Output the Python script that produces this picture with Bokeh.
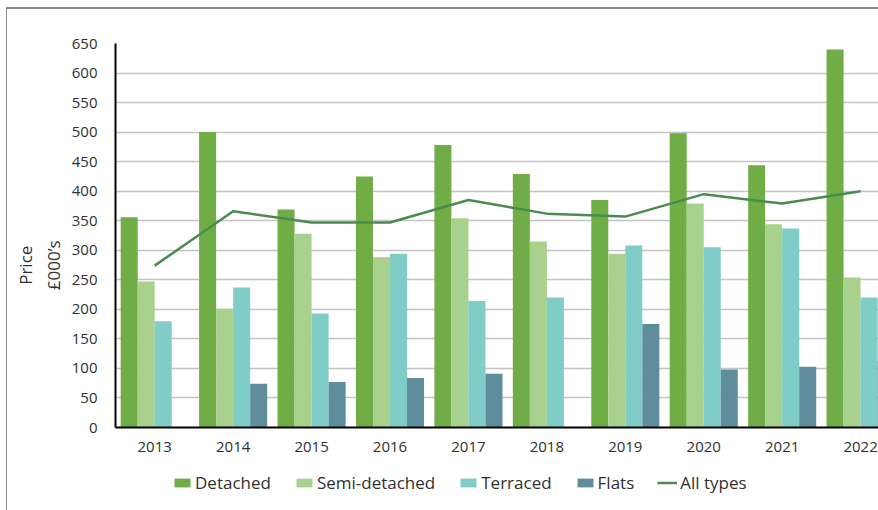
from bokeh.plotting import figure
from bokeh.layouts import column
from bokeh.models import (ColumnDataSource, FixedTicker, Legend, LegendItem,
                          Range1d)
from bokeh.transform import dodge
from bokeh.embed import file_html
from bokeh.resources import INLINE
import numpy as np

# ---- data ----
years = ["2013", "2014", "2015", "2016", "2017", "2018", "2019", "2020", "2021", "2022"]
detached = [356, 500, 369, 425, 478, 429, 385, 498, 444, 640]
semi_detached = [247, 201, 328, 288, 354, 315, 294, 379, 344, 254]
terraced = [180, 237, 193, 294, 214, 220, 308, 305, 337, 220]
flats = [np.nan, 74, 77, 84, 91, np.nan, 175, 98, 103, 112]
all_types = [274, 366, 347, 347, 385, 362, 357, 395, 379, 400]
y_ticks = [0, 50, 100, 150, 200, 250, 300, 350, 400, 450, 500, 550, 600, 650]
series_names = ["Detached", "Semi-detached", "Terraced", "Flats"]
line_name = "All types"
y_title = ["Price", "£000’s"]

COLORS = ["#70ad47", "#a9d18e", "#7fcdc6", "#5f8d9c"]
LINE_COLOR = "#4a8b50"
FONT = "Open Sans"
TXT = "#303030"
BORDER = "#8c8c8c"

idx = list(range(len(years)))
src = ColumnDataSource(dict(
    i=idx, center=[k + 0.5 for k in idx],
    detached=detached, semi=semi_detached, terraced=terraced,
    flats=flats, all_types=all_types,
))

p = figure(width=872, height=458, output_backend="svg", toolbar_location=None,
           x_range=Range1d(0, 9.741), y_range=Range1d(0, 650),
           min_border_left=108, min_border_right=0, min_border_top=34,
           min_border_bottom=40,
           styles={"border-left": f"1px solid {BORDER}",
                   "border-top": f"2px solid {BORDER}"})
p.outline_line_color = None
p.background_fill_color = "white"
p.border_fill_color = "white"

bw = 0.217
fields = ["detached", "semi", "terraced", "flats"]
for k, (field, color) in enumerate(zip(fields, COLORS)):
    off = 0.066 + bw / 2 + k * bw
    p.vbar(x=dodge("i", off), top=field, width=bw, source=src,
           fill_color=color, line_color=None)

p.line(x="center", y="all_types", source=src, line_color=LINE_COLOR,
       line_width=2.5)

# axes
p.yaxis.ticker = FixedTicker(ticks=y_ticks)
p.xaxis.ticker = FixedTicker(ticks=[k + 0.5 for k in idx])
p.xaxis.major_label_overrides = {k + 0.5: y for k, y in zip(idx, years)}
for ax in (p.xaxis, p.yaxis):
    ax.axis_line_color = "black"
    ax.axis_line_width = 2
    ax.major_tick_line_color = None
    ax.minor_tick_line_color = None
    ax.major_label_text_font = FONT
    ax.major_label_text_font_size = "15px"
    ax.major_label_text_color = TXT
p.yaxis.major_label_standoff = 12
p.xaxis.major_label_standoff = 8
# trailing em-spaces push the (rotated) title a little below the axis middle
pad = "\u2003\u2003\u2003\u2002"
p.yaxis.axis_label = "\n".join(t + pad for t in y_title)
p.yaxis.axis_label_text_font = FONT
p.yaxis.axis_label_text_font_size = "17px"
p.yaxis.axis_label_text_font_style = "normal"
p.yaxis.axis_label_text_color = TXT
p.yaxis.axis_label_standoff = 4

p.xgrid.grid_line_color = None
p.ygrid.ticker = FixedTicker(ticks=y_ticks)
p.ygrid.grid_line_color = "#c4c4c4"
p.ygrid.grid_line_width = 1.5

# ---- legend strip (separate figure below, same look) ----
lg = figure(width=872, height=45, output_backend="svg", toolbar_location=None,
            x_range=Range1d(0, 1), y_range=Range1d(0, 1),
            min_border=0, min_border_left=0, min_border_right=0,
            min_border_top=0, min_border_bottom=0,
            styles={"border-left": f"1px solid {BORDER}"})
lg.axis.visible = False
lg.grid.visible = False
lg.outline_line_color = None
items = []
for name, color in zip(series_names, COLORS):
    r = lg.vbar(x=[5], top=[1], width=0.1, fill_color=color, line_color=None)
    items.append(LegendItem(label=name, renderers=[r]))
lr = lg.line(x=[5, 6], y=[5, 6], line_color=LINE_COLOR, line_width=2.5)
items.append(LegendItem(label=line_name, renderers=[lr]))
legend = Legend(items=items, orientation="horizontal", location=(57, 16),
                label_text_font=FONT, label_text_font_size="17px",
                label_text_color=TXT, glyph_width=20, glyph_height=11,
                label_standoff=3, spacing=23, padding=0, margin=0,
                border_line_color=None, background_fill_alpha=0)
lg.add_layout(legend, "center")

layout = column(p, lg, margin=(7, 0, 0, 6), spacing=0)
open("out.html", "w").write(file_html(layout, INLINE))
